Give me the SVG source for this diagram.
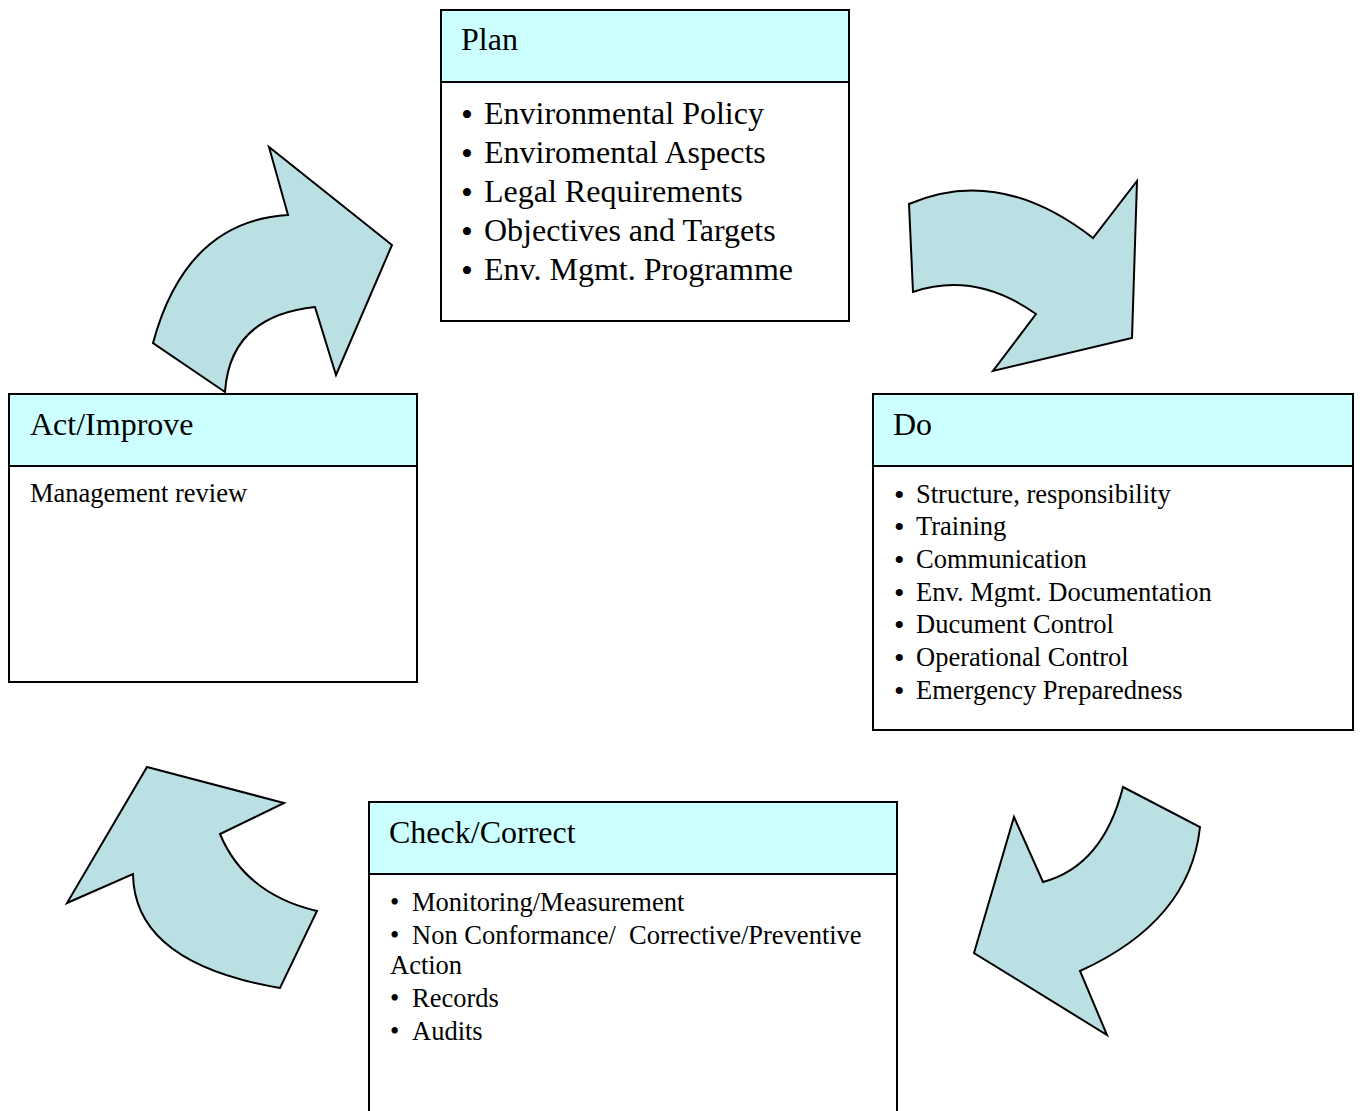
<svg xmlns="http://www.w3.org/2000/svg" width="1360" height="1111" viewBox="0 0 1360 1111">
  <style>
    .box { fill: #ffffff; stroke: #000000; stroke-width: 2; }
    .head { fill: #ccffff; stroke: #000000; stroke-width: 2; }
    .arrow { fill: #bbe0e3; stroke: #000000; stroke-width: 2; stroke-linejoin: miter; }
    text { font-family: "Liberation Serif", "Times New Roman", serif; fill: #000000; }
    .title { font-size: 32px; }
    .big { font-size: 32px; }
    .item { font-size: 26.5px; }
    .dot-big { font-size: 34px; }
    .dot { font-size: 30px; }
  </style>

  <rect width="1360" height="1111" fill="#ffffff"/>

  <!-- curved block arrows forming the cycle -->
  <g id="connectors">
    <path id="arrow-act-plan" class="arrow" d="M269,147 L288,215 Q186,221 153,343 L225,392 Q230,316 315,307 L336,375 L392,245 Z"/>
    <path id="arrow-plan-do" class="arrow" d="M909,204 Q999,165 1093,238 L1137,181 L1132,338 L993,371 L1036,314 Q975,271 913,292 Z"/>
    <path id="arrow-do-check" class="arrow" d="M1123,787 L1200,827 Q1190,921 1080,971 L1107,1035 L974,953 L1014,817 L1043,882 Q1103,866 1123,787 Z"/>
    <path id="arrow-check-act" class="arrow" d="M147,767 L284,803 L220,834 Q245,894 317,911 L280,988 Q134,963 133,874 L67,903 Z"/>
  </g>

  <!-- Plan -->
  <g id="plan">
    <rect class="box" x="441" y="10" width="408" height="311"/>
    <rect class="head" x="441" y="10" width="408" height="72"/>
    <text class="title" x="461" y="50">Plan</text>
    <g class="big">
      <text x="461" y="124"><tspan class="dot-big" dy="2">•</tspan><tspan x="484" dy="-2">Environmental Policy</tspan></text>
      <text x="461" y="163"><tspan class="dot-big" dy="2">•</tspan><tspan x="484" dy="-2">Enviromental Aspects</tspan></text>
      <text x="461" y="202"><tspan class="dot-big" dy="2">•</tspan><tspan x="484" dy="-2">Legal Requirements</tspan></text>
      <text x="461" y="241"><tspan class="dot-big" dy="2">•</tspan><tspan x="484" dy="-2">Objectives and Targets</tspan></text>
      <text x="461" y="280"><tspan class="dot-big" dy="2">•</tspan><tspan x="484" dy="-2">Env. Mgmt. Programme</tspan></text>
    </g>
  </g>

  <!-- Do -->
  <g id="do">
    <rect class="box" x="873" y="394" width="480" height="336"/>
    <rect class="head" x="873" y="394" width="480" height="72"/>
    <text class="title" x="893" y="435">Do</text>
    <g class="item">
      <text x="894" y="503"><tspan class="dot" dy="2">•</tspan><tspan x="916" dy="-2">Structure, responsibility</tspan></text>
      <text x="894" y="535"><tspan class="dot" dy="2">•</tspan><tspan x="916" dy="-2">Training</tspan></text>
      <text x="894" y="568"><tspan class="dot" dy="2">•</tspan><tspan x="916" dy="-2">Communication</tspan></text>
      <text x="894" y="601"><tspan class="dot" dy="2">•</tspan><tspan x="916" dy="-2">Env. Mgmt. Documentation</tspan></text>
      <text x="894" y="633"><tspan class="dot" dy="2">•</tspan><tspan x="916" dy="-2">Ducument Control</tspan></text>
      <text x="894" y="666"><tspan class="dot" dy="2">•</tspan><tspan x="916" dy="-2">Operational Control</tspan></text>
      <text x="894" y="699"><tspan class="dot" dy="2">•</tspan><tspan x="916" dy="-2">Emergency Preparedness</tspan></text>
    </g>
  </g>

  <!-- Check/Correct -->
  <g id="check">
    <rect class="box" x="369" y="802" width="528" height="320"/>
    <rect class="head" x="369" y="802" width="528" height="72"/>
    <text class="title" x="389" y="843">Check/Correct</text>
    <g class="item">
      <text x="390" y="911">•<tspan x="412">Monitoring/Measurement</tspan></text>
      <text x="390" y="944" xml:space="preserve">•<tspan x="412">Non Conformance/  Corrective/Preventive</tspan></text>
      <text x="390" y="974">Action</text>
      <text x="390" y="1007">•<tspan x="412">Records</tspan></text>
      <text x="390" y="1040">•<tspan x="412">Audits</tspan></text>
    </g>
  </g>

  <!-- Act/Improve -->
  <g id="act">
    <rect class="box" x="9" y="394" width="408" height="288"/>
    <rect class="head" x="9" y="394" width="408" height="72"/>
    <text class="title" x="30" y="435">Act/Improve</text>
    <text class="item" x="30" y="502">Management review</text>
  </g>
</svg>
